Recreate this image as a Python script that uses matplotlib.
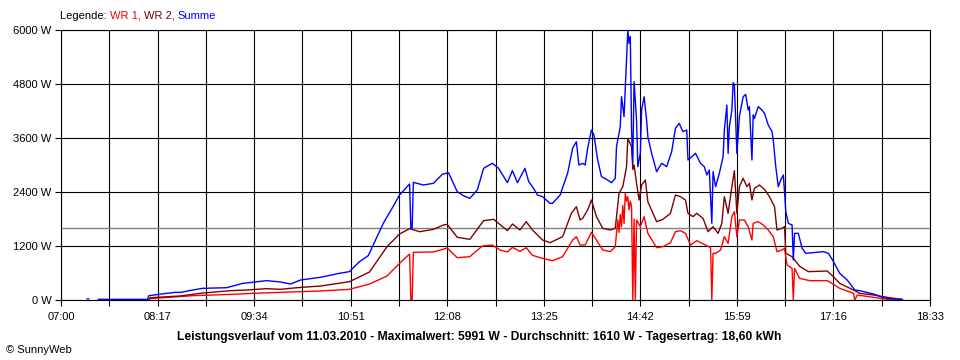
import numpy as np
import matplotlib
matplotlib.use("Agg")
import matplotlib.pyplot as plt
from matplotlib.ticker import FixedLocator, FuncFormatter

plt.rcParams["font.family"] = ["Liberation Sans", "DejaVu Sans"]

wr1_t = ["07:30", "08:10", "08:11", "08:45", "09:17", "09:33", "09:55", "10:27", "10:50", "11:06",
         "11:20", "11:30", "11:38", "11:39", "11:40", "11:41", "11:57", "12:08", "12:16", "12:26",
         "12:36", "12:44", "12:50", "12:56", "13:00", "13:06", "13:11", "13:16", "13:24", "13:32",
         "13:40", "13:48", "13:51", "13:54", "13:58", "14:03", "14:07", "14:12", "14:18", "14:22",
         "14:24", "14:25", "14:26", "14:27", "14:28", "14:29", "14:30", "14:31", "14:32", "14:33",
         "14:34", "14:35", "14:36", "14:37", "14:38", "14:39", "14:42", "14:45", "14:48", "14:55",
         "15:00", "15:06", "15:10", "15:14", "15:18", "15:22", "15:27", "15:34", "15:38", "15:39",
         "15:40", "15:42", "15:46", "15:49", "15:52", "15:55", "15:57", "15:59", "16:01", "16:05",
         "16:08", "16:11", "16:12", "16:16", "16:20", "16:24", "16:28", "16:31", "16:35", "16:37",
         "16:39", "16:43", "16:44", "16:45", "16:49", "16:57", "17:11", "17:16", "17:21", "17:32",
         "17:33", "17:35", "17:48", "17:59", "18:05"]
wr1_w = [5, 5, 30, 96, 126, 148, 170, 200, 237, 355,
         533, 815, 1022, 0, 0, 1060, 1067, 1155, 940, 963,
         1200, 1222, 1111, 1067, 1170, 1080, 1163, 993, 926, 874,
         963, 1333, 1407, 1222, 1222, 1504, 1333, 1111, 1074, 1185,
         1778, 1500, 1900, 1630, 2100, 1700, 2370, 2200, 2296, 2000,
         2200, 2074, 0, 1800, 0, 1778, 1630, 1852, 1481, 1163,
         1185, 1274, 1518, 1541, 1481, 1222, 1318, 1222, 1163, 0,
         1037, 1037, 1111, 1407, 1259, 1852, 1963, 1407, 1778, 1778,
         1630, 1333, 1704, 1741, 1667, 1556, 1407, 1074, 1111, 1148,
         778, 703, 0, 700, 481, 430, 430, 348, 259, 148,
         0, 111, 59, 15, 0]

wr2_t = ["07:30", "08:10", "08:11", "08:35", "08:53", "09:15", "09:28", "09:44", "09:55", "10:08",
         "10:27", "10:50", "11:06", "11:20", "11:30", "11:38", "11:46", "11:57", "12:05", "12:08",
         "12:16", "12:26", "12:37", "12:45", "12:56", "13:00", "13:06", "13:11", "13:16", "13:24",
         "13:30", "13:40", "13:47", "13:51", "13:54", "13:56", "14:00", "14:03", "14:07", "14:12",
         "14:18", "14:22", "14:25", "14:28", "14:31", "14:32", "14:35", "14:36", "14:37", "14:39",
         "14:41", "14:43", "14:46", "14:48", "14:55", "15:00", "15:06", "15:10", "15:14", "15:18",
         "15:20", "15:24", "15:27", "15:32", "15:36", "15:40", "15:44", "15:47", "15:49", "15:52",
         "15:55", "15:57", "15:59", "16:01", "16:04", "16:07", "16:09", "16:11", "16:13", "16:17",
         "16:21", "16:25", "16:29", "16:31", "16:35", "16:37", "16:38", "16:43", "16:49", "16:56",
         "17:11", "17:16", "17:21", "17:32", "17:37", "17:48", "17:59", "18:11"]
wr2_w = [5, 5, 51, 89, 155, 207, 222, 252, 237, 273,
         311, 407, 622, 1185, 1467, 1585, 1518, 1570, 1667, 1681,
         1393, 1348, 1763, 1793, 1541, 1689, 1556, 1741, 1556, 1333,
         1274, 1407, 1926, 2074, 1778, 1815, 2000, 2222, 1852, 1593,
         1556, 1593, 2370, 2518, 2963, 3585, 3407, 2900, 3000, 2593,
         2222, 2555, 2667, 2185, 1741, 1793, 1926, 2333, 2296, 2222,
         1926, 1852, 1926, 1815, 1518, 1630, 1481, 1704, 2296, 1926,
         2518, 2874, 1926, 2518, 2704, 2518, 2593, 2222, 2481, 2555,
         2459, 2296, 2074, 1556, 1593, 1630, 1037, 963, 750, 630,
         644, 518, 370, 222, 148, 111, 59, 10]

summe_t = ["07:21", "07:22", "07:26", "07:30", "08:09", "08:10", "08:22", "08:31", "08:36", "08:42",
           "08:53", "09:12", "09:25", "09:44", "09:55", "10:03", "10:11", "10:27", "10:42", "10:50",
           "10:58", "11:05", "11:09", "11:17", "11:24", "11:30", "11:38", "11:39", "11:40", "11:41",
           "11:49", "11:57", "12:04", "12:09", "12:16", "12:21", "12:26", "12:32", "12:37", "12:44",
           "12:49", "12:56", "13:00", "13:04", "13:10", "13:13", "13:16", "13:20", "13:24", "13:30",
           "13:32", "13:38", "13:44", "13:48", "13:51", "13:53", "13:56", "13:58", "14:00", "14:03",
           "14:05", "14:08", "14:11", "14:15", "14:19", "14:22", "14:23", "14:26", "14:27", "14:29",
           "14:31", "14:32", "14:33", "14:34", "14:35", "14:36", "14:37", "14:39", "14:40", "14:42",
           "14:43", "14:45", "14:47", "14:48", "14:51", "14:55", "14:59", "15:03", "15:07", "15:10",
           "15:13", "15:16", "15:19", "15:20", "15:23", "15:26", "15:30", "15:33", "15:35", "15:37",
           "15:39", "15:40", "15:42", "15:45", "15:48", "15:49", "15:51", "15:52", "15:53", "15:55",
           "15:56", "15:57", "15:59", "16:01", "16:03", "16:04", "16:06", "16:08", "16:09", "16:11",
           "16:12", "16:13", "16:16", "16:19", "16:21", "16:24", "16:27", "16:28", "16:30", "16:32",
           "16:34", "16:36", "16:37", "16:38", "16:40", "16:43", "16:44", "16:45", "16:48", "16:51",
           "16:54", "17:00", "17:08", "17:12", "17:16", "17:21", "17:27", "17:33", "17:37", "17:48",
           "17:55", "18:00", "18:11"]
summe_w = [25, 25, None, 15, 15, 95, 140, 170, 170, 207,
           260, 273, 370, 430, 400, 355, 444, 505, 593, 630,
           852, 985, 1222, 1704, 2037, 2333, 2578, 1593, 1593, 2615,
           2555, 2593, 2793, 2829, 2407, 2318, 2259, 2444, 2926, 3037,
           2926, 2607, 2874, 2607, 2926, 2630, 2518, 2333, 2296, 2148,
           2148, 2333, 2815, 3370, 3518, 3000, 3037, 3000, 3370, 3778,
           3667, 3111, 2741, 2681, 2607, 2704, 3407, 3852, 4518, 4074,
           5333, 5991, 5704, 5852, 3778, 3037, 4852, 4000, 2963, 3259,
           4222, 4518, 4000, 3630, 3259, 2852, 3037, 2963, 3296, 3815,
           3926, 3741, 3778, 3111, 3185, 3259, 3037, 2963, 2778, 2889,
           1704, 2852, 2518, 2815, 3185, 3778, 4333, 3259, 3852, 4222,
           4830, 4778, 3259, 4074, 4370, 4518, 4570, 4222, 4296, 3111,
           4111, 4037, 4296, 4222, 4148, 3889, 3741, 3556, 2963, 2518,
           2667, 2778, 2407, 1963, 1704, 1667, 889, 1481, 1481, 1148,
           1037, 1052, 1074, 1037, 852, 593, 444, 222, 207, 133,
           59, 30, 15]

avg_w = 1610
y_ticks = [0, 1200, 2400, 3600, 4800, 6000]
t_start, t_end = "07:00", "18:33"
title = ("Leistungsverlauf vom 11.03.2010 - Maximalwert: 5991 W - "
         "Durchschnitt: 1610 W - Tagesertrag: 18,60 kWh")


def to_min(ts):
    return np.array([int(s[:2]) * 60 + int(s[3:]) for s in ts], float)


def hhmm(v, pos=None):
    m = int(round(v))
    return "%02d:%02d" % (m // 60, m % 60)


x0, x1 = to_min([t_start, t_end])

fig = plt.figure(figsize=(9.6, 3.6), dpi=100)
ax = fig.add_axes([61 / 960, 60 / 360, 869 / 960, 270 / 360])

ax.plot(to_min(wr1_t), wr1_w, color="#ff0000", lw=1.0, zorder=3)
ax.plot(to_min(wr2_t), wr2_w, color="#800000", lw=1.0, zorder=3)
ax.plot(to_min(summe_t), np.array(summe_w, dtype=float), color="#0000ff", lw=1.0, zorder=4)
ax.axhline(avg_w, color="#808080", lw=1.0, zorder=2.5)

ax.set_xlim(x0, x1)
ax.set_ylim(0, 6000)
step = (x1 - x0) / 9
ax.xaxis.set_major_locator(FixedLocator(x0 + step * np.arange(10)))
ax.xaxis.set_minor_locator(FixedLocator(x0 + step * (np.arange(9) + 0.5)))
ax.xaxis.set_major_formatter(FuncFormatter(hhmm))
ax.yaxis.set_major_locator(FixedLocator(y_ticks))
ax.yaxis.set_major_formatter(FuncFormatter(lambda v, p: "%d W" % v))

ax.xaxis.grid(True, which="both", color="black", lw=0.8)
ax.yaxis.grid(True, which="major", color="black", lw=0.8)
ax.set_axisbelow(True)
ax.tick_params(which="both", direction="out", length=4, width=0.8, labelsize=8)
ax.tick_params(axis="x", pad=5)
ax.tick_params(axis="y", pad=3)
for s in ax.spines.values():
    s.set_color("black")
    s.set_linewidth(0.8)

# legend line on top, coloured words
t1 = fig.text(60 / 960, 1 - 16 / 360, "Legende: ", fontsize=8, va="center", ha="left")
t2 = ax.annotate("WR 1, ", xy=(1, 0), xycoords=t1, va="bottom", ha="left", fontsize=8, color="#ff0000")
t3 = ax.annotate("WR 2, ", xy=(1, 0), xycoords=t2, va="bottom", ha="left", fontsize=8, color="#800000")
ax.annotate("Summe", xy=(1, 0), xycoords=t3, va="bottom", ha="left", fontsize=8, color="#0000ff")

fig.text(479 / 960, 1 - 337 / 360, title, ha="center", va="center", fontsize=8.7, weight="bold")
fig.text(6 / 960, 1 - 350 / 360, "\u00a9 SunnyWeb", ha="left", va="center", fontsize=8)

fig.savefig("out.png", dpi=100)
